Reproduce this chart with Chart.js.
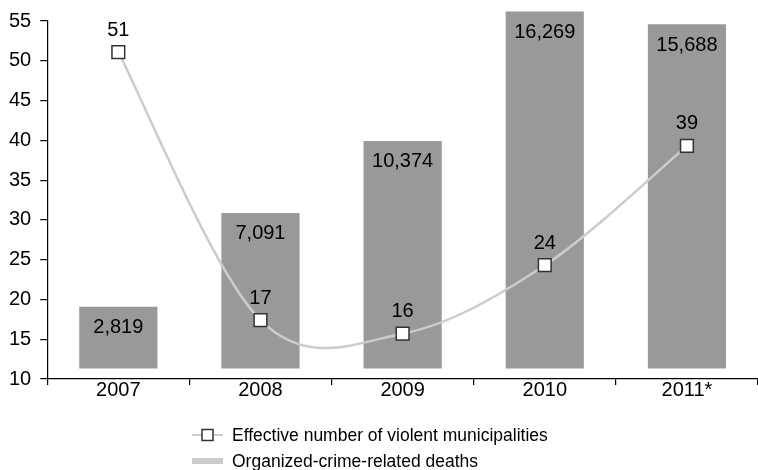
<!DOCTYPE html>
<html>
<head>
<meta charset="utf-8">
<script src="https://cdn.jsdelivr.net/npm/chart.js@4"></script>
<style>
  body { margin: 0; background: #fff; }
  #wrap { width: 758px; height: 470px; }
</style>
</head>
<body>
<div id="wrap"><canvas id="chart" width="758" height="470"></canvas></div>
<script>
  // Chart data
  const years = ['2007', '2008', '2009', '2010', '2011*'];
  const deaths = [2819, 7091, 10374, 16269, 15688];
  const violentMunicipalities = [51.1, 17.4, 15.7, 24.3, 39.3];
  const yTicks = [10, 15, 20, 25, 30, 35, 40, 45, 50, 55];

  // Hidden scale used for the bars (deaths)
  const deathAxisMin = -477;
  const deathAxisMax = 15841;

  const FONT = "'Liberation Sans', Arial, Helvetica, sans-serif";
  Chart.defaults.font.family = FONT;
  Chart.defaults.font.size = 20;
  Chart.defaults.color = '#000';

  // Smooth the line like a spreadsheet does (uniform Catmull-Rom)
  const smoothLine = {
    id: 'smoothLine',
    beforeDatasetDraw(chart, args) {
      if (args.index !== 0) return;
      const line = args.meta.dataset;
      line.updateControlPoints(chart.chartArea, 'x');
      const pts = args.meta.data;
      pts.forEach((p, i) => {
        const prev = pts[Math.max(i - 1, 0)];
        const next = pts[Math.min(i + 1, pts.length - 1)];
        const dx = (next.x - prev.x) / 6;
        const dy = (next.y - prev.y) / 6;
        p.cp1x = p.x - dx;
        p.cp1y = p.y - dy;
        p.cp2x = p.x + dx;
        p.cp2y = p.y + dy;
      });
      line._path = undefined;
    }
  };

  // Draws the value labels on bars and points
  const valueLabels = {
    id: 'valueLabels',
    afterDatasetsDraw(chart) {
      const ctx = chart.ctx;
      ctx.save();
      ctx.font = '20px ' + FONT;
      ctx.fillStyle = '#000';
      ctx.textAlign = 'center';
      ctx.textBaseline = 'middle';

      chart.getDatasetMeta(1).data.forEach((bar, i) => {
        ctx.fillText(deaths[i].toLocaleString('en-US'), bar.x, bar.y + 21);
      });
      chart.getDatasetMeta(0).data.forEach((pt, i) => {
        ctx.fillText(String(Math.round(violentMunicipalities[i])), pt.x, pt.y - 22);
      });
      ctx.restore();
    }
  };

  // Vertical legend under the x axis
  const stackedLegend = {
    id: 'stackedLegend',
    afterDraw(chart) {
      const ctx = chart.ctx;
      const area = chart.chartArea;
      const x0 = 192, x1 = 223, textX = 232;
      const y1 = area.bottom + 56, y2 = area.bottom + 82;
      ctx.save();

      ctx.strokeStyle = '#cccccc';
      ctx.lineWidth = 2;
      ctx.beginPath();
      ctx.moveTo(x0, y1);
      ctx.lineTo(x1, y1);
      ctx.stroke();
      ctx.fillStyle = '#fff';
      ctx.strokeStyle = '#333';
      ctx.lineWidth = 1.5;
      ctx.fillRect(202, y1 - 5.5, 11, 11);
      ctx.strokeRect(202, y1 - 5.5, 11, 11);

      ctx.fillStyle = '#cccccc';
      ctx.fillRect(x0, y2 - 3, x1 - x0, 6);

      ctx.fillStyle = '#000';
      ctx.font = '17.5px ' + FONT;
      ctx.textAlign = 'left';
      ctx.textBaseline = 'middle';
      ctx.fillText('Effective number of violent municipalities', textX, y1 + 1);
      ctx.fillText('Organized-crime-related deaths', textX, y2 + 1);
      ctx.restore();
    }
  };

  new Chart(document.getElementById('chart'), {
    data: {
      labels: years,
      datasets: [
        {
          type: 'line',
          label: 'Effective number of violent municipalities',
          data: violentMunicipalities,
          yAxisID: 'y',
          borderColor: '#cccccc',
          borderWidth: 2.5,
          tension: 0.5,
          pointStyle: 'rect',
          pointRadius: 9,
          pointBackgroundColor: '#fff',
          pointBorderColor: '#333',
          pointBorderWidth: 1.5,
          clip: false,
          order: 0
        },
        {
          type: 'bar',
          label: 'Organized-crime-related deaths',
          data: deaths,
          yAxisID: 'y2',
          backgroundColor: '#999999',
          barPercentage: 0.55,
          categoryPercentage: 1,
          clip: false,
          order: 1
        }
      ]
    },
    options: {
      responsive: false,
      animation: false,
      layout: { autoPadding: false, padding: { top: 20, right: 0, bottom: 61, left: 0 } },
      plugins: {
        legend: { display: false },
        tooltip: { enabled: false }
      },
      scales: {
        x: {
          offset: true,
          border: { display: true, color: '#000', width: 1.2 },
          grid: { offset: true, drawOnChartArea: false, drawTicks: true, tickLength: 6, color: '#000', lineWidth: 1.2 },
          ticks: { padding: -7, font: { size: 20 } },
          afterFit(scale) {
            scale.height = 30;
            scale.paddingLeft = 0;
            scale.paddingRight = 0;
          }
        },
        y: {
          min: 10,
          max: 55,
          afterBuildTicks(scale) { scale.ticks = yTicks.map(v => ({ value: v })); },
          border: { display: true, color: '#000', width: 1.2 },
          grid: { drawOnChartArea: false, drawTicks: true, tickLength: 7, color: '#000', lineWidth: 1.2 },
          ticks: { padding: 9, font: { size: 20 } }
        },
        y2: {
          display: false,
          min: deathAxisMin,
          max: deathAxisMax
        }
      }
    },
    plugins: [smoothLine, valueLabels, stackedLegend]
  });
</script>
</body>
</html>
